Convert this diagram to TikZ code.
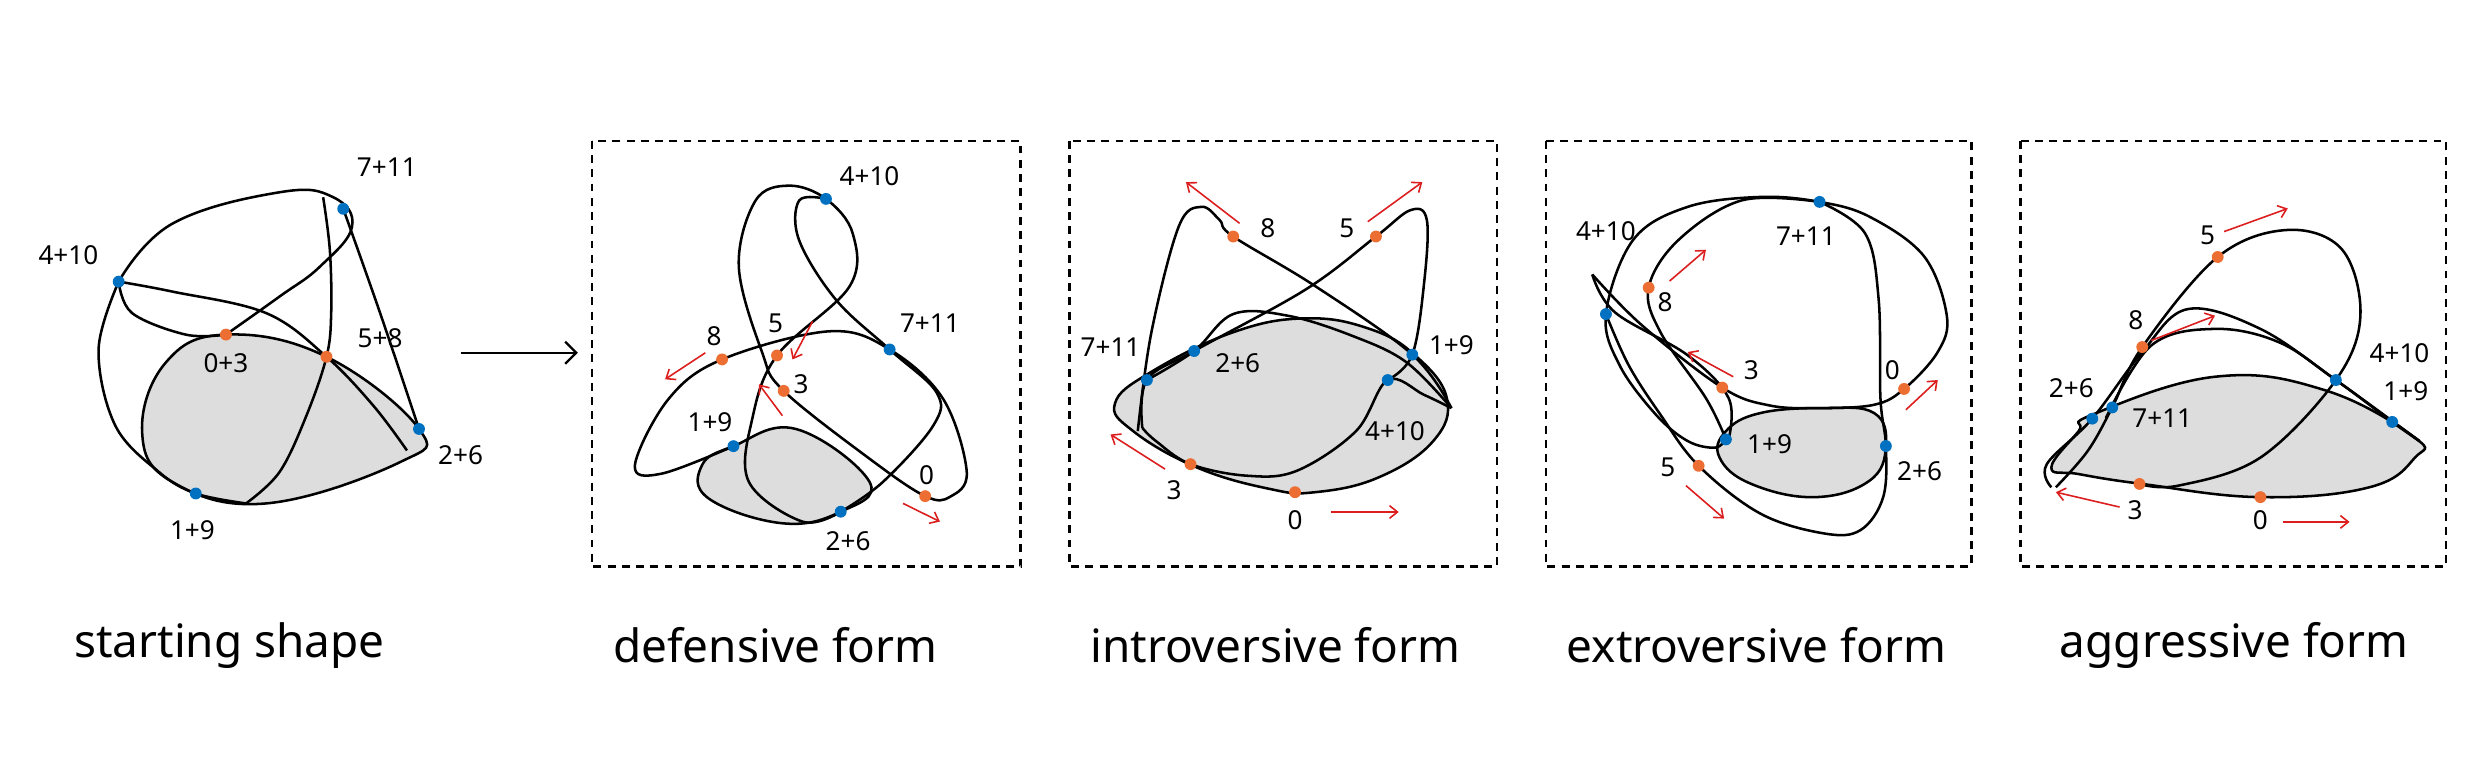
\documentclass[tikz,border=0pt]{standalone}
\usepackage{fontspec}
\setmainfont{Noto Sans}
\usetikzlibrary{arrows.meta}
\definecolor{bdot}{RGB}{0,112,192}
\definecolor{odot}{RGB}{237,110,50}
\definecolor{rarr}{RGB}{220,30,30}
\definecolor{blob}{RGB}{221,221,221}
\begin{document}
\begin{tikzpicture}[x=1pt,y=-1pt,
  crv/.style={line width=1.6pt,line join=round},
  bd/.style={circle,fill=bdot,inner sep=0pt,minimum size=7.5pt},
  od/.style={circle,fill=odot,inner sep=0pt,minimum size=7.5pt},
  lab/.style={font=\fontsize{16.5}{16.5}\selectfont,inner sep=1pt},
  ttl/.style={font=\fontsize{29}{29}\selectfont},
  ra/.style={draw=rarr,line width=1pt,-{Straight Barb[length=5pt,width=8pt]}},
  box/.style={draw,line width=1.5pt,dash pattern=on 5pt off 4pt},
  gb/.style={fill=blob,line width=1.6pt}]
\useasboundingbox (0,0) rectangle (1568,485);
% ---------- panels 1-2 ----------
\begin{scope}[shift={(-1.27,63.98)},xscale=0.4237,yscale=0.2092]
\draw[gb] plot[smooth cycle,tension=0.7] coordinates {(340,705)(490,772)(628,990)(600,1090)(400,1215)(260,1150)(215,1000)(250,790)};
\draw[crv] plot[smooth,tension=0.6] coordinates {(180,545)(150,750)(175,980)(240,1120)(295,1185)(370,1215)};
\draw[crv] plot[smooth,tension=0.6] coordinates {(180,545)(200,640)(280,705)(340,705)};
\draw[crv] plot[smooth,tension=0.6] coordinates {(180,545)(260,575)(400,640)(490,772)(560,920)(610,1055)};
\draw[crv] plot[smooth,tension=0.7] coordinates {(180,545)(260,370)(420,275)(500,290)(528,380)(480,500)(420,590)(340,705)};
\draw[crv] plot[smooth,tension=0.6] coordinates {(485,290)(495,450)(497,640)(490,772)(460,950)(420,1120)(370,1215)};
\draw[crv] plot[smooth,tension=0.6] coordinates {(515,325)(570,640)(628,990)};
\node[bd] (a711) at (515,325) {};
\node[bd] (a410) at (180,545) {};
\node[od] (a03) at (340,705) {};
\node[od] (a58) at (490,772) {};
\node[bd] (a26) at (628,990) {};
\node[bd] (a19) at (295,1185) {};
\node[lab] at (580,200) {7+11};
\node[lab] at (105,465) {4+10};
\node[lab] at (340,790) {0+3};
\node[lab] at (570,715) {5+8};
\node[lab] at (690,1070) {2+6};
\node[lab] at (290,1295) {1+9};
\coordinate (mA) at (690,760); \coordinate (mB) at (865,760);
\draw[line width=1.5pt,-{Straight Barb[length=7pt,width=14pt]}] (mA) -- (mB);
% panel 2
\draw[gb] plot[smooth cycle,tension=0.7] coordinates {(1097,1042)(1190,990)(1300,1150)(1257,1240)(1170,1275)(1060,1200)(1050,1100)};
\draw[crv] plot[smooth,tension=0.6] coordinates {(1097,1042)(990,1125)(950,1100)(1000,900)(1080,780)(1240,695)(1330,750)(1410,900)(1445,1120)(1420,1195)(1383,1193)(1300,1080)(1172,875)(1140,760)(1105,500)(1130,300)(1180,255)(1235,295)(1275,400)(1270,560)(1162,768)(1125,960)(1120,1150)(1200,1270)(1257,1240)};
\draw[crv] plot[smooth,tension=0.6] coordinates {(1257,1240)(1320,1150)(1395,980)(1400,880)(1330,750)(1250,600)(1195,420)(1195,300)(1235,295)};
\node[bd] (b410) at (1235,295) {};
\node[bd] (b711) at (1330,750) {};
\node[od] (b8) at (1080,780) {};
\node[od] (b5) at (1162,768) {};
\node[od] (b3) at (1172,875) {};
\node[bd] (b19) at (1097,1042) {};
\node[bd] (b26) at (1257,1240) {};
\node[od] (b0) at (1383,1193) {};
\node[lab] at (1300,225) {4+10};
\node[lab] at (1390,670) {7+11};
\node[lab] at (1068,710) {8};
\node[lab] at (1160,670) {5};
\node[lab] at (1198,855) {3};
\node[lab] at (1062,970) {1+9};
\node[lab] at (1268,1330) {2+6};
\node[lab] at (1385,1130) {0};
\coordinate (b8a) at (1055,760); \coordinate (b8b) at (995,840);
\coordinate (b5a) at (1215,665); \coordinate (b5b) at (1185,780);
\coordinate (b3a) at (1170,950); \coordinate (b3b) at (1135,855);
\coordinate (b0a) at (1350,1215); \coordinate (b0b) at (1405,1270);
\draw[ra] (b8a) -- (b8b); \draw[ra] (b5a) -- (b5b); \draw[ra] (b3a) -- (b3b); \draw[ra] (b0a) -- (b0b);
\end{scope}
% ---------- panels 3-5 ----------
\begin{scope}[shift={(664.5,64.0)},xscale=0.5745,yscale=0.2085]
% panel 3
\draw[gb] plot[smooth cycle,tension=0.7] coordinates {(70,915)(110,820)(200,700)(280,658)(350,690)(400,770)(435,900)(420,1030)(360,1140)(290,1185)(240,1175)(160,1110)(90,1000)};
\draw[crv] plot[smooth,tension=0.6] coordinates {(95,1000)(110,700)(140,380)(165,320)(185,360)(200,410)(290,560)(397,768)(440,930)};
\draw[crv] plot[smooth,tension=0.6] coordinates {(440,930)(410,890)(370,845)(335,1000)(270,1120)(215,1135)(153,1100)(115,1030)(100,990)};
\draw[crv] plot[smooth,tension=0.6] coordinates {(100,990)(105,845)(157,757)(280,570)(357,410)(395,330)(413,360)(410,550)(397,768)(370,845)};
\draw[crv] plot[smooth,tension=0.6] coordinates {(105,845)(157,757)(200,645)(260,650)(330,710)(390,790)(440,930)};
\node[bd] (c711) at (105,845) {};
\node[bd] (c26) at (157,757) {};
\node[bd] (c19) at (397,768) {};
\node[bd] (c410) at (370,845) {};
\node[od] (c8) at (200,410) {};
\node[od] (c5) at (357,410) {};
\node[od] (c3) at (153,1100) {};
\node[od] (c0) at (268,1185) {};
\node[lab] at (65,745) {7+11};
\node[lab] at (205,795) {2+6};
\node[lab] at (440,740) {1+9};
\node[lab] at (378,1000) {4+10};
\node[lab] at (238,385) {8};
\node[lab] at (325,385) {5};
\node[lab] at (135,1180) {3};
\node[lab] at (268,1270) {0};
\coordinate (c8a) at (207,370); \coordinate (c8b) at (148,245);
\coordinate (c5a) at (348,365); \coordinate (c5b) at (408,245);
\coordinate (c3a) at (125,1115); \coordinate (c3b) at (65,1010);
\coordinate (c0a) at (308,1245); \coordinate (c0b) at (382,1245);
\draw[ra] (c8a) -- (c8b); \draw[ra] (c5a) -- (c5b); \draw[ra] (c3a) -- (c3b); \draw[ra] (c0a) -- (c0b);
% panel 4
\draw[gb] plot[smooth cycle,tension=0.7] coordinates {(742,1000)(780,945)(850,930)(905,945)(918,1045)(900,1150)(840,1200)(770,1160)(735,1080)};
\draw[crv] plot[smooth,tension=0.6] coordinates {(595,525)(650,680)(738,868)(790,922)(845,930)(905,920)(938,872)(975,760)(985,650)(960,470)(900,350)(845,305)(780,290)(700,320)(640,420)(610,645)(625,800)(665,950)(700,1030)(730,1050)(742,1025)};
\draw[crv] plot[smooth,tension=0.6] coordinates {(595,525)(620,640)(700,770)(745,900)(745,1025)};
\draw[crv] plot[smooth,tension=0.6] coordinates {(845,305)(895,400)(910,600)(912,900)(918,1045)(915,1200)(890,1300)(850,1310)(780,1250)(712,1105)(670,950)(635,800)(610,645)};
\draw[crv] plot[smooth,tension=0.6] coordinates {(742,1025)(720,900)(670,700)(657,565)(690,420)(760,300)(845,305)};
\node[bd] (d711) at (845,305) {};
\node[bd] (d410) at (610,645) {};
\node[od] (d8) at (657,565) {};
\node[od] (d3) at (738,868) {};
\node[od] (d0) at (938,872) {};
\node[bd] (d19) at (742,1025) {};
\node[bd] (d26) at (918,1045) {};
\node[od] (d5) at (712,1105) {};
\node[lab] at (830,410) {7+11};
\node[lab] at (610,395) {4+10};
\node[lab] at (675,610) {8};
\node[lab] at (770,815) {3};
\node[lab] at (925,815) {0};
\node[lab] at (790,1040) {1+9};
\node[lab] at (955,1120) {2+6};
\node[lab] at (678,1110) {5};
\coordinate (d8a) at (680,545); \coordinate (d8b) at (720,450);
\coordinate (d3a) at (750,835); \coordinate (d3b) at (700,760);
\coordinate (d0a) at (940,935); \coordinate (d0b) at (975,845);
\coordinate (d5a) at (698,1165); \coordinate (d5b) at (740,1265);
\draw[ra] (d8a) -- (d8b); \draw[ra] (d3a) -- (d3b); \draw[ra] (d0a) -- (d0b); \draw[ra] (d5a) -- (d5b);
% panel 5
\draw[gb] plot[smooth cycle,tension=0.7] coordinates {(1145,950)(1280,835)(1400,875)(1500,1020)(1500,1080)(1450,1170)(1330,1200)(1200,1160)(1130,1130)(1100,1110)(1130,1000)};
\draw[crv] plot[smooth,tension=0.6] coordinates {(1105,1170)(1140,1060)(1167,928)(1200,745)(1283,472)(1360,390)(1420,450)(1440,650)(1413,845)(1330,1080)(1240,1165)(1197,1160)};
\draw[crv] plot[smooth,tension=0.6] coordinates {(1100,1170)(1095,1100)(1145,962)(1200,760)(1250,630)(1330,690)(1413,845)(1475,972)(1505,1030)};
\draw[crv] plot[smooth,tension=0.6] coordinates {(1160,960)(1210,740)(1280,690)(1350,730)(1413,845)(1505,1030)};
\node[bd] (e410) at (1413,845) {};
\node[bd] (e19) at (1475,972) {};
\node[bd] (e26) at (1145,962) {};
\node[bd] (e711) at (1167,928) {};
\node[od] (e5) at (1283,472) {};
\node[od] (e8) at (1200,745) {};
\node[od] (e3) at (1197,1160) {};
\node[od] (e0) at (1330,1200) {};
\node[lab] at (1272,405) {5};
\node[lab] at (1193,665) {8};
\node[lab] at (1483,765) {4+10};
\node[lab] at (1490,880) {1+9};
\node[lab] at (1122,870) {2+6};
\node[lab] at (1222,960) {7+11};
\node[lab] at (1192,1240) {3};
\node[lab] at (1330,1270) {0};
\coordinate (e5a) at (1290,395); \coordinate (e5b) at (1360,325);
\coordinate (e8a) at (1210,725); \coordinate (e8b) at (1280,650);
\coordinate (e3a) at (1175,1230); \coordinate (e3b) at (1105,1185);
\coordinate (e0a) at (1355,1275); \coordinate (e0b) at (1428,1275);
\draw[ra] (e5a) -- (e5b); \draw[ra] (e8a) -- (e8b); \draw[ra] (e3a) -- (e3b); \draw[ra] (e0a) -- (e0b);
\end{scope}
% boxes
\draw[box] (374,89) rectangle (645,358);
\draw[box] (676,89) rectangle (946,358);
\draw[box] (977,89) rectangle (1246,358);
\draw[box] (1277,89) rectangle (1546,358);
% titles
\node[ttl] (t1) at (145,408) {starting shape};
\node[ttl] (t2) at (490,408) {defensive form};
\node[ttl] (t3) at (806,408) {introversive form};
\node[ttl] (t4) at (1110,408) {extroversive form};
\node[ttl] (t5) at (1412,408) {aggressive form};
\end{tikzpicture}
\end{document}
